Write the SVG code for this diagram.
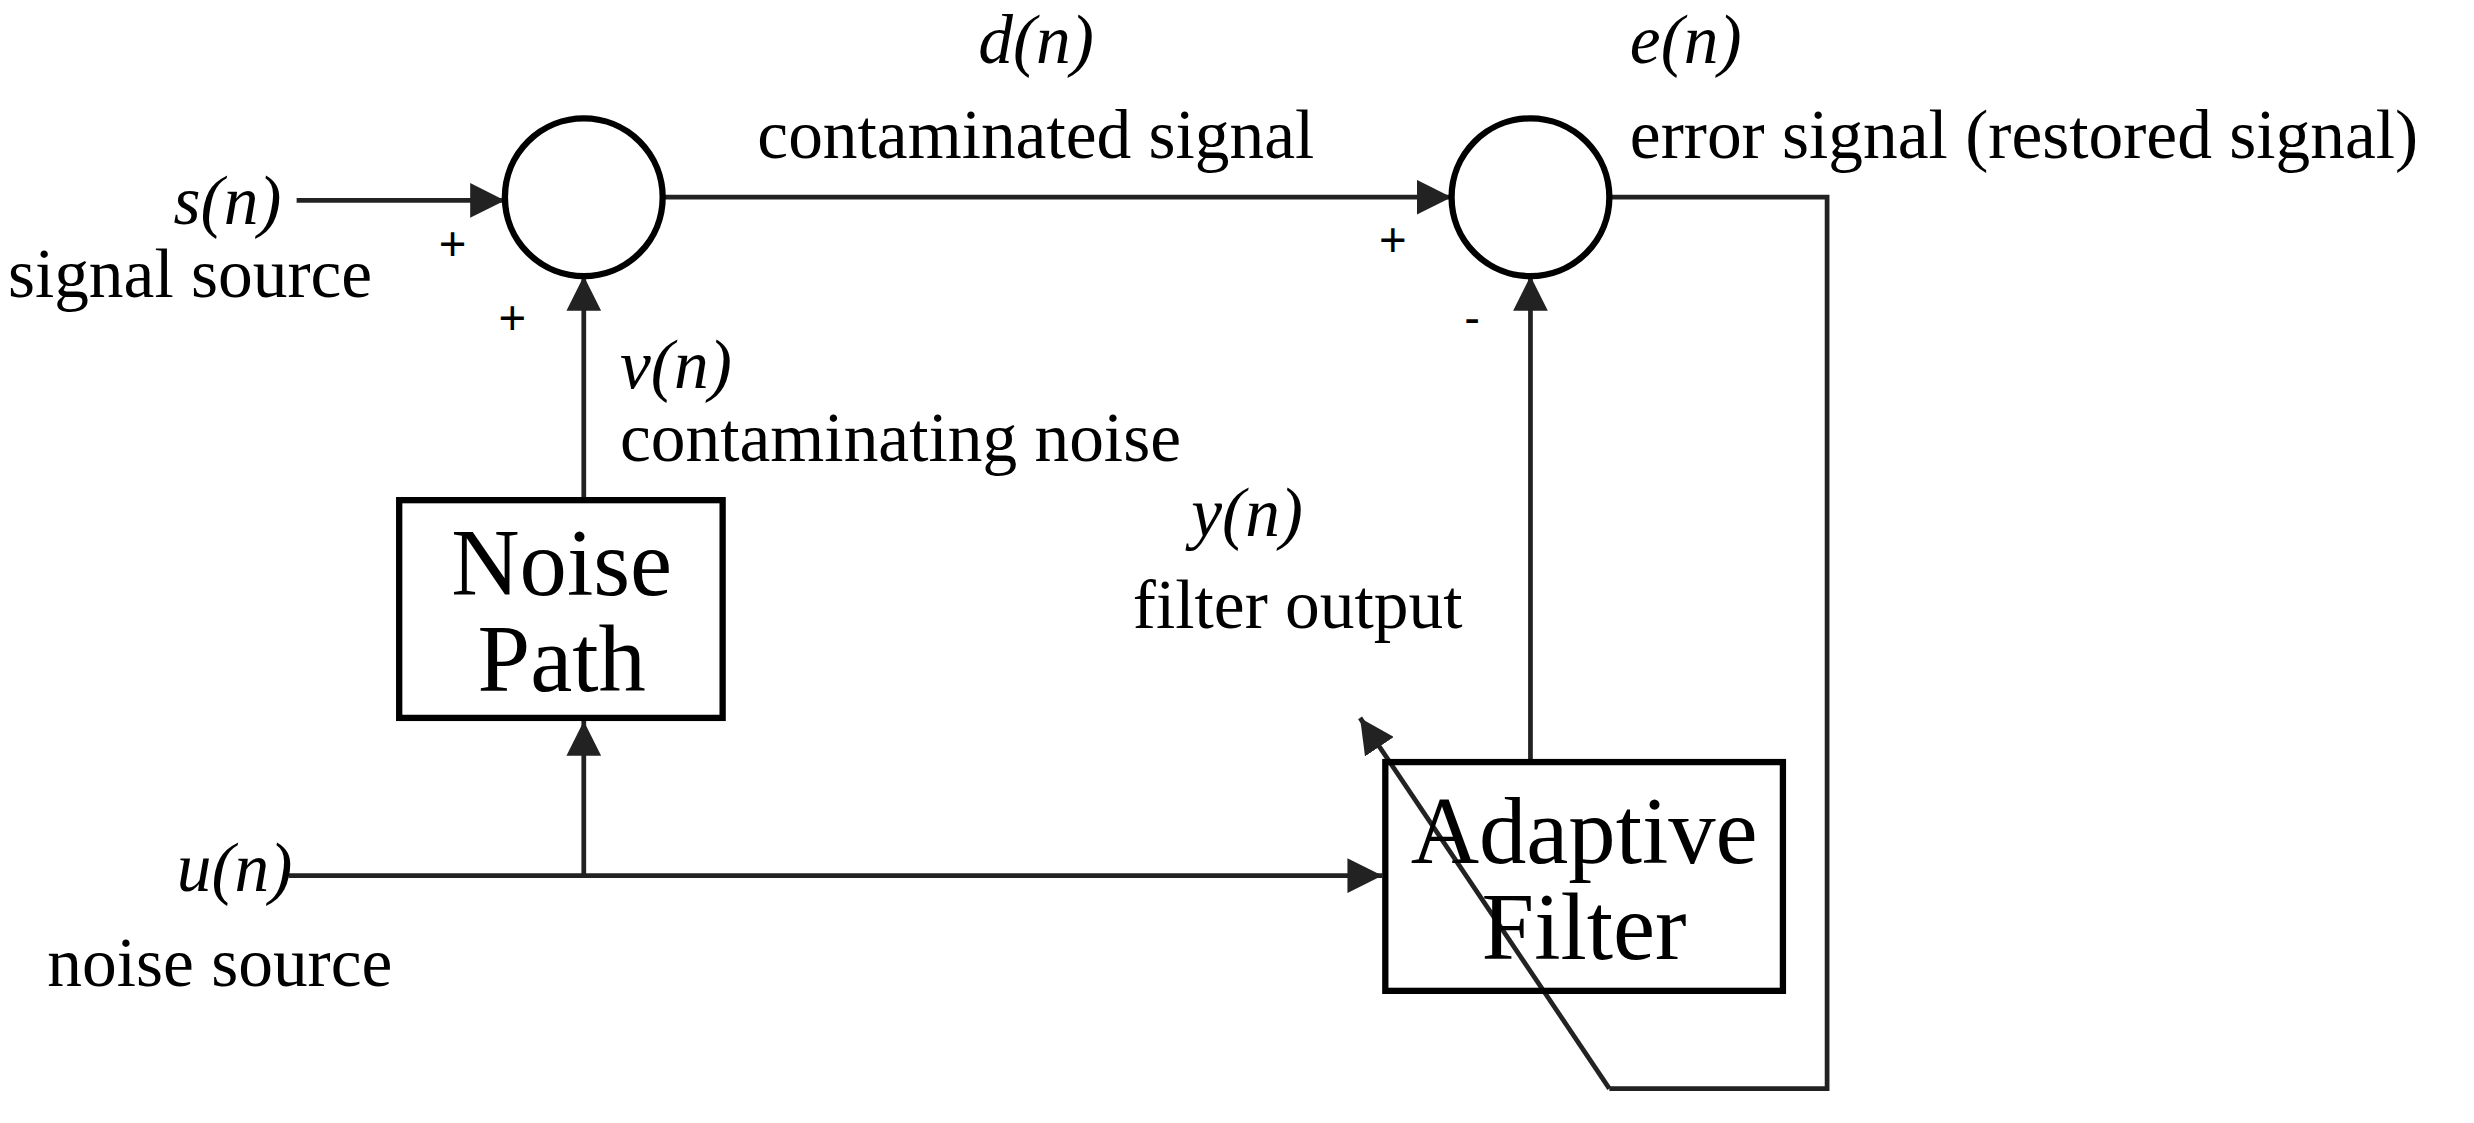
<svg xmlns="http://www.w3.org/2000/svg" width="2474" height="1123" viewBox="0 0 2474 1123">
<style>
.t{font-family:"Liberation Serif",serif;font-size:44px;fill:#000}
.i{font-style:italic}
.b{font-family:"Liberation Serif",serif;font-size:60px;fill:#000;text-anchor:middle}
.p{font-family:"Liberation Sans",sans-serif;font-size:30px;fill:#000}
.l{stroke:#222;stroke-width:3;fill:none}
.s{stroke:#000;stroke-width:4;fill:none}
</style>
<defs><marker id="m" viewBox="0 0 10 10" refX="10" refY="5" markerWidth="22" markerHeight="22" markerUnits="userSpaceOnUse" orient="auto"><path d="M0,0L10,5L0,10z" fill="#222"/></marker></defs>
<rect width="2474" height="1123" fill="#fff"/>
<g transform="scale(1.5778)">
<g id="connectors">
<line class="l" x1="188" y1="127" x2="320" y2="127" marker-end="url(#m)"/>
<line class="l" x1="420" y1="125" x2="920" y2="125" marker-end="url(#m)"/>
<line class="l" x1="370" y1="317" x2="370" y2="175" marker-end="url(#m)"/>
<line class="l" x1="183" y1="555" x2="876" y2="555" marker-end="url(#m)"/>
<line class="l" x1="370" y1="555" x2="370" y2="457" marker-end="url(#m)"/>
<line class="l" x1="970" y1="483" x2="970" y2="175" marker-end="url(#m)"/>
<polyline class="l" points="1020,125 1158,125 1158,690 1020,690"/>
<line class="l" x1="1020" y1="690" x2="862" y2="455" marker-end="url(#m)"/>
</g>
<g id="sum1"><circle class="s" cx="370" cy="125" r="50"/></g>
<g id="sum2"><circle class="s" cx="970" cy="125" r="50"/></g>
<g id="noisepath"><rect class="s" x="253" y="317" width="205" height="138"/>
<text class="b" x="356" y="377">Noise</text><text class="b" x="356" y="438">Path</text></g>
<g id="adaptive"><rect class="s" x="878" y="483" width="252" height="145"/>
<text class="b" x="1004" y="547">Adaptive</text><text class="b" x="1004" y="608">Filter</text></g>
<g id="labels">
<text class="t i" x="110" y="142">s(n)</text><text class="t" x="5" y="188">signal source</text>
<text class="p" x="278" y="165">+</text><text class="p" x="316" y="212">+</text>
<text class="t i" x="620" y="40">d(n)</text><text class="t" x="480" y="100">contaminated signal</text>
<text class="p" x="874" y="162">+</text><text class="p" x="928" y="212">-</text>
<text class="t i" x="1033" y="40">e(n)</text><text class="t" x="1033" y="100">error signal (restored signal)</text>
<text class="t i" x="393" y="246">v(n)</text><text class="t" x="393" y="292">contaminating noise</text>
<text class="t i" x="755" y="340">y(n)</text><text class="t" x="718" y="398">filter output</text>
<text class="t i" x="112" y="565">u(n)</text><text class="t" x="30" y="625">noise source</text>
</g>
</g>
</svg>
